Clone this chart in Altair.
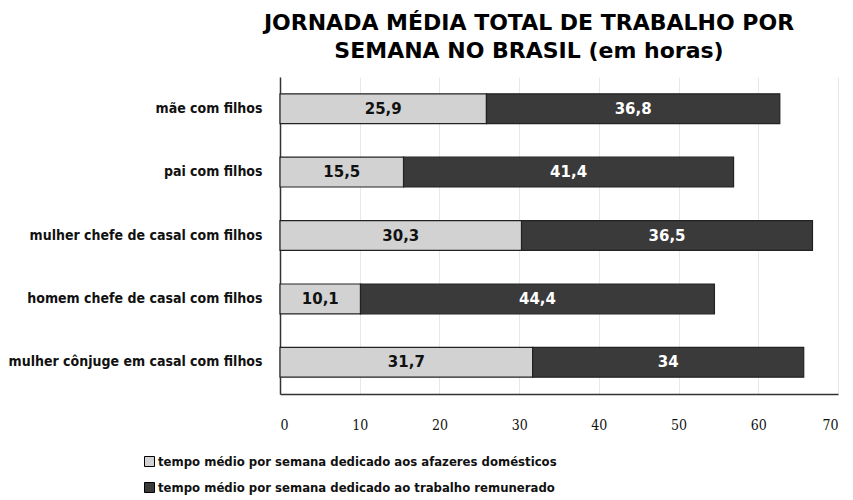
import altair as alt
import pandas as pd

categories = [
    "mãe com filhos",
    "pai com filhos",
    "mulher chefe de casal com filhos",
    "homem chefe de casal com filhos",
    "mulher cônjuge em casal com filhos",
]
domestic = [25.9, 15.5, 30.3, 10.1, 31.7]
paid = [36.8, 41.4, 36.5, 44.4, 34.0]
series = [
    "tempo médio por semana dedicado aos afazeres domésticos",
    "tempo médio por semana dedicado ao trabalho remunerado",
]
x_ticks = [0, 10, 20, 30, 40, 50, 60, 70]


def fmt(v):
    s = ("%.1f" % v).replace(".", ",")
    return s[:-2] if s.endswith(",0") else s


rows = []
for c, d, p in zip(categories, domestic, paid):
    rows.append({"cat": c, "serie": series[0], "val": d, "ord": 0, "lab": fmt(d)})
    rows.append({"cat": c, "serie": series[1], "val": p, "ord": 1, "lab": fmt(p)})
df = pd.DataFrame(rows)

LABEL_FONT = "DejaVu Sans Condensed"

base = alt.Chart(df).transform_stack(
    stack="val", groupby=["cat"], as_=["x0", "x1"], sort=[alt.SortField("ord")]
).transform_calculate(mid="(datum.x0 + datum.x1) / 2")

y_enc = alt.Y(
    "cat:N",
    sort=categories,
    title=None,
    scale=alt.Scale(paddingInner=0.53, paddingOuter=0.265),
    axis=alt.Axis(
        labelFont=LABEL_FONT, labelFontSize=14, labelFontWeight="bold", labelColor="#111",
        ticks=False, labelPadding=18, domainColor="#333", domainWidth=1.5,
        labelLimit=300,
    ),
)

bars = base.mark_bar(stroke="#222", strokeWidth=1.2).encode(
    y=y_enc,
    x=alt.X(
        "x0:Q", title=None,
        scale=alt.Scale(domain=[0, 70], nice=False),
        axis=alt.Axis(
            values=x_ticks, ticks=False, labelPadding=24,
            labelFont="DejaVu Serif Condensed", labelFontSize=14, labelColor="#111",
            grid=True, gridColor="#e8e8e8", domainColor="#333", domainWidth=1.5,
        ),
    ),
    x2="x1:Q",
    color=alt.Color(
        "serie:N",
        scale=alt.Scale(domain=series, range=["#d2d2d2", "#3a3a3a"]),
        legend=alt.Legend(
            title=None, orient="none", legendX=-137, legendY=378,
            direction="vertical", symbolType="square", symbolSize=100,
            symbolStrokeColor="#000", symbolStrokeWidth=1,
            labelFont=LABEL_FONT, labelFontSize=13, labelFontWeight="bold",
            labelColor="#111", rowPadding=11, labelLimit=500, labelOffset=2,
        ),
    ),
)

text = base.mark_text(font="DejaVu Sans", fontWeight="bold", fontSize=15).encode(
    y=alt.Y("cat:N", sort=categories),
    x=alt.X("mid:Q"),
    text="lab:N",
    fill=alt.condition(alt.datum.ord == 0, alt.value("#111"), alt.value("#fff")),
)

chart = (
    alt.layer(bars, text)
    .properties(
        width=558,
        height=317,
        title=alt.TitleParams(
            text=["JORNADA MÉDIA TOTAL DE TRABALHO POR", "SEMANA NO BRASIL (em horas)"],
            font="DejaVu Sans", fontSize=22, fontWeight="bold", color="#000",
            anchor="middle", dx=-30, offset=14, lineHeight=28,
        ),
        autosize=alt.AutoSizeParams(type="none"),
        padding={"left": 280, "top": 77, "right": 15, "bottom": 106},
        background="white",
    )
    .configure_view(stroke=None)
)

chart.save("out.html", embed_options={"renderer": "svg", "actions": False})
